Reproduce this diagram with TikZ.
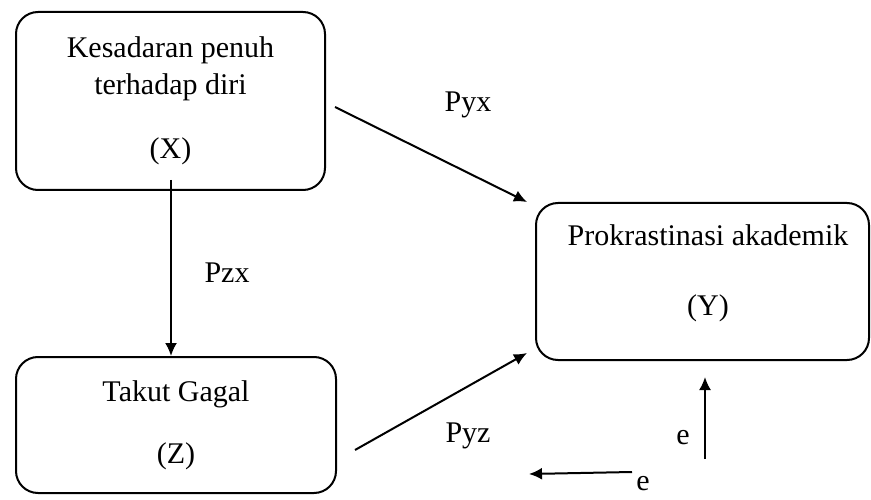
\documentclass[tikz,border=0pt]{standalone}
\usepackage{fontspec}
\setmainfont{Liberation Serif}
\usetikzlibrary{arrows.meta,calc}
\begin{document}
\begin{tikzpicture}[x=1pt,y=-1pt,
  boxst/.style={draw, line width=2pt, rounded corners=22pt, align=center,
    font=\fontsize{30}{37}\selectfont, inner sep=0pt},
  lbl/.style={font=\fontsize{30}{35}\selectfont, inner sep=0pt},
  arr/.style={line width=2pt, -{Latex[length=13pt,width=12pt]}}]
\useasboundingbox (0,0) rectangle (871,500);
% boxes
\node[boxst, minimum width=309pt, minimum height=178pt] (X) at (170.5,101)
  {Kesadaran penuh\\terhadap diri\\[27pt](X)};
\node[boxst, minimum width=320pt, minimum height=136pt] (Z) at (176,425)
  {Takut Gagal\\[25pt](Z)};
\node[boxst, minimum width=333pt, minimum height=157pt] (Y) at (702.5,281.5) {};
\node[align=center, font=\fontsize{30}{37}\selectfont, inner sep=0pt] (Ytext) at (708,273)
  {Prokrastinasi akademik\\[33pt](Y)};
% free connector ends
\coordinate (xs) at (171,180);
\coordinate (pyx1) at (335,107);
\coordinate (pyx2) at (527,202);
\coordinate (pyz1) at (355,450);
\coordinate (pyz2) at (527,353);
\coordinate (eu1) at (705,459);
\coordinate (eu2) at (705,377);
\coordinate (el1) at (632,472);
\coordinate (el2) at (529,474);
% connectors
\draw[arr] (xs) -- (xs |- Z.north);
\draw[arr] (pyx1) -- (pyx2);
\draw[arr] (pyz1) -- (pyz2);
\draw[arr] (eu1) -- (eu2);
\draw[arr] (el1) -- (el2);
% labels
\node[lbl] (lpzx) at (227,273) {Pzx};
\node[lbl] (lpyx) at (468,105) {Pyx};
\node[lbl] (lpyz) at (468,436) {Pyz};
\node[lbl] (le1) at (683,438) {e};
\node[lbl] (le2) at (643,484) {e};
\end{tikzpicture}
\end{document}
